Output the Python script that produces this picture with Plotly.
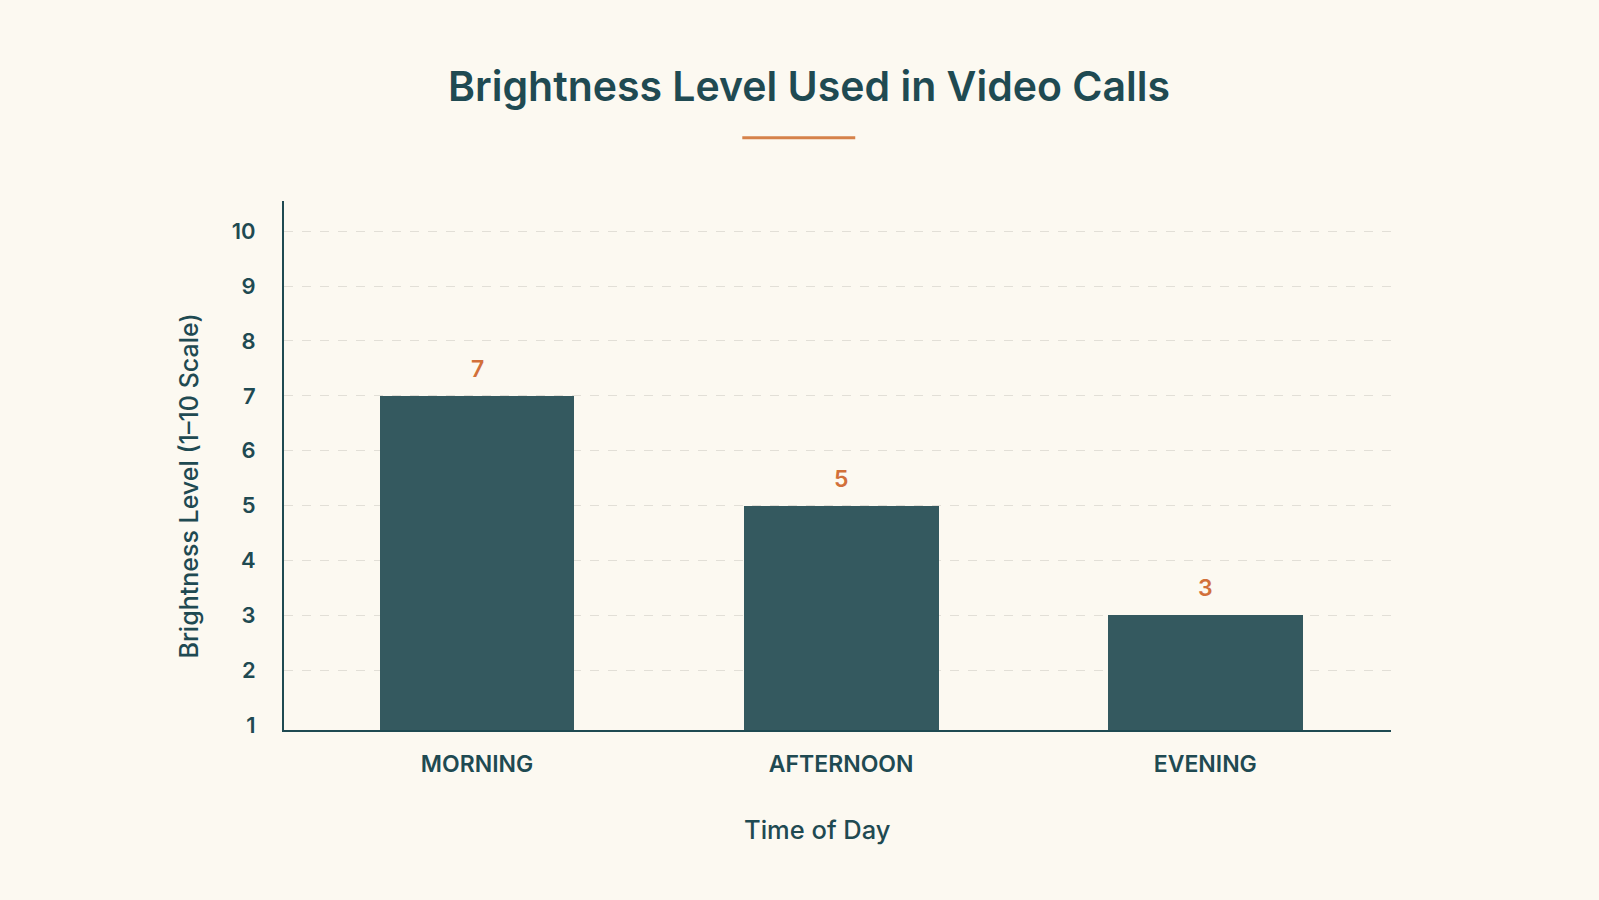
import plotly.graph_objects as go

categories = ["MORNING", "AFTERNOON", "EVENING"]
values = [7, 5, 3]
y_ticks = [1, 2, 3, 4, 5, 6, 7, 8, 9, 10]
grid_ticks = [2, 3, 4, 5, 6, 7, 8, 9, 10]

BG = "#fcf9f1"
DARK = "#1f4a52"
BAR = "#34595f"
ORANGE = "#d2703a"
FONT = "Inter"

fig = go.Figure()
fig.add_trace(go.Bar(
    x=categories, y=values, marker=dict(color=BAR, line=dict(width=0)),
    width=0.535, hoverinfo="skip",
))
# invisible trace on overlay axis for gridlines
fig.add_trace(go.Scatter(x=categories, y=values, yaxis="y2", mode="markers",
                         marker=dict(opacity=0), hoverinfo="skip", showlegend=False))

for c, v in zip(categories, values):
    fig.add_annotation(x=c, y=v, text=str(v), showarrow=False, yshift=27,
                       font=dict(family=FONT, size=23, color=ORANGE, weight=600))

W, H = 1599, 900
L, R, T, B = 283.5, 208, 201, 170
pw, ph = W - L - R, H - T - B

fig.update_layout(
    width=W, height=H, paper_bgcolor=BG, plot_bgcolor=BG,
    margin=dict(l=L, r=R, t=T, b=B, pad=0), showlegend=False,
    bargap=0,
    title=dict(text="Brightness Level Used in Video Calls", x=(809) / W, xanchor="center",
               y=1 - 87 / H, yanchor="middle",
               font=dict(family=FONT, size=41, color=DARK, weight=600)),
    xaxis=dict(range=[-0.53, 2.51], showline=True, linecolor=DARK, linewidth=2,
               showgrid=False, ticks="", ticklabelstandoff=12,
               tickfont=dict(family=FONT, size=23, color=DARK, weight=600)),
    yaxis=dict(range=[0.91, 10.55], tickvals=y_ticks, showline=True, linecolor=DARK,
               linewidth=2, showgrid=False, ticks="", ticklabelstandoff=22, zeroline=False,
               tickfont=dict(family=FONT, size=22, color=DARK, weight=600)),
    yaxis2=dict(range=[0.91, 10.55], overlaying="y", tickvals=grid_ticks, showticklabels=False,
                showgrid=True, gridcolor="#e2dfd7", griddash="dash", gridwidth=1, zeroline=False),
)

fig.add_annotation(xref="paper", yref="paper", x=(188 - L) / pw, y=1 - (486 - T) / ph,
                   xanchor="center", yanchor="middle",
                   text="Brightness Level (1–10 Scale)", textangle=-90, showarrow=False,
                   font=dict(family=FONT, size=25, color=DARK, weight=500))
fig.add_annotation(xref="paper", yref="paper", x=(817 - L) / pw, y=1 - (829 - T) / ph,
                   xanchor="center", yanchor="middle",
                   text="Time of Day", showarrow=False,
                   font=dict(family=FONT, size=25.5, color=DARK, weight=500))
fig.add_shape(type="line", xref="paper", yref="paper",
              x0=(742 - L) / pw, x1=(855 - L) / pw, y0=1 - (137.7 - T) / ph, y1=1 - (137.7 - T) / ph,
              line=dict(color="#d6824a", width=3))

fig.write_html("out.html")
